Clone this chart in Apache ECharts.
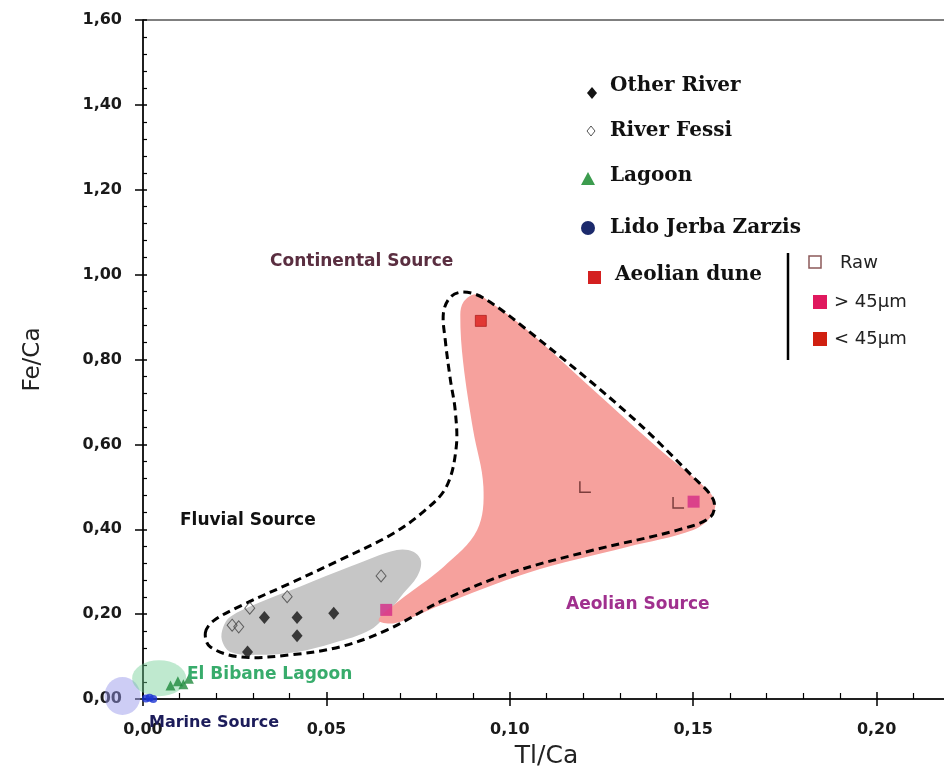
<!DOCTYPE html>
<html>
<head>
<meta charset="utf-8">
<script src="https://cdn.jsdelivr.net/npm/echarts@6/dist/echarts.min.js"></script>
<style>
  html, body { margin: 0; padding: 0; background: #ffffff; }
  #chart { width: 944px; height: 774px; }
</style>
</head>
<body>
<div id="chart"></div>
<script>
// ---- axis ticks ----
const xTickValues = [0, 0.05, 0.10, 0.15, 0.20];
const xTickLabels = ['0,00', '0,05', '0,10', '0,15', '0,20'];
const yTickValues = [0, 0.2, 0.4, 0.6, 0.8, 1.0, 1.2, 1.4, 1.6];
const yTickLabels = ['0,00', '0,20', '0,40', '0,60', '0,80', '1,00', '1,20', '1,40', '1,60'];

// ---- samples: [Ti/Ca, Fe/Ca] ----
const otherRiver = [[0.0331, 0.192], [0.0420, 0.192], [0.0520, 0.202], [0.0420, 0.149], [0.0285, 0.111]];
const riverFessi = [[0.0649, 0.290], [0.0393, 0.241], [0.0291, 0.214], [0.0243, 0.174], [0.0261, 0.170]];
const lagoon = [[0.0075, 0.032], [0.0095, 0.042], [0.0110, 0.035], [0.0125, 0.048]];
const lidoJerbaZarzis = [[0.0008, 0.001], [0.0018, 0.003], [0.0028, 0.000]];
const duneRaw = [[0.1206, 0.500], [0.1460, 0.463]];
const duneCoarse = [[0.1501, 0.465], [0.0663, 0.210]];   // > 45 µm
const duneFine = [[0.0921, 0.891]];                      // < 45 µm

// ---- source domains (outlines in data units) ----
const fluvialField = [
  [0.0238, 0.194], [0.0311, 0.225], [0.0429, 0.265], [0.0565, 0.312], [0.0692, 0.351],
  [0.0737, 0.347], [0.0758, 0.324], [0.0747, 0.288], [0.0710, 0.249], [0.0674, 0.210],
  [0.0620, 0.163], [0.0519, 0.132], [0.0420, 0.111], [0.0311, 0.104], [0.0238, 0.111],
  [0.0215, 0.139], [0.0219, 0.170]
];
const aeolianField = [
  [0.0874, 0.936], [0.0906, 0.954], [0.0947, 0.935], [0.1048, 0.869], [0.1228, 0.728],
  [0.1410, 0.587], [0.1519, 0.509], [0.1558, 0.469], [0.1552, 0.434], [0.1500, 0.398],
  [0.1320, 0.358], [0.1048, 0.297], [0.0811, 0.221], [0.0688, 0.179], [0.0642, 0.186],
  [0.0701, 0.233], [0.0819, 0.311], [0.0911, 0.398], [0.0928, 0.500], [0.0900, 0.634],
  [0.0873, 0.792], [0.0865, 0.905]
];
const continentalBoundary = [
  [0.0170, 0.156], [0.0192, 0.184], [0.0265, 0.219], [0.0402, 0.273], [0.0538, 0.328],
  [0.0674, 0.386], [0.0764, 0.441], [0.0827, 0.500], [0.0854, 0.594], [0.0851, 0.681],
  [0.0838, 0.752], [0.0824, 0.846], [0.0819, 0.910], [0.0838, 0.947], [0.0873, 0.959],
  [0.0928, 0.945], [0.1048, 0.869], [0.1320, 0.674], [0.1500, 0.523], [0.1555, 0.469],
  [0.1547, 0.429], [0.1457, 0.398], [0.1228, 0.351], [0.1001, 0.297], [0.0819, 0.233],
  [0.0666, 0.163], [0.0538, 0.123], [0.0402, 0.104], [0.0265, 0.099], [0.0183, 0.123]
];
const marineCentre = [[-0.0056, 0.007]];
const bibaneCentre = [[0.0044, 0.049]];

const FONT = "'DejaVu Sans', Verdana, sans-serif";
const SERIF = "'DejaVu Serif', 'Liberation Serif', serif";

function tickLabel(values, labels) {
  return function (v) {
    for (let i = 0; i < values.length; i++) {
      if (Math.abs(values[i] - v) < 1e-9) return labels[i];
    }
    return '';
  };
}

function regionSeries(name, pts, style, z) {
  return {
    type: 'custom', name: name, data: pts, z: z, silent: true, clip: false,
    renderItem: function (params, api) {
      if (params.dataIndex !== 0) return;
      const points = pts.map(function (p) { return api.coord(p); });
      return { type: 'polygon', shape: { points: points, smooth: 0.35 }, style: style };
    }
  };
}

const chart = echarts.init(document.getElementById('chart'), null, { renderer: 'canvas' });

const axisLineStyle = { color: '#000', width: 1.5 };

chart.setOption({
  backgroundColor: '#ffffff',
  animation: false,
  // plot area runs slightly past the right edge of the page
  grid: {
    left: 143, top: 20, width: 807, height: 679, outerBoundsMode: 'none', containLabel: false,
    show: true, borderColor: '#000', borderWidth: 1, backgroundColor: 'transparent'
  },
  xAxis: [
    {
      type: 'value', min: 0, max: 0.22, interval: 0.05, position: 'bottom',
      axisLine: { show: true, onZero: false, lineStyle: axisLineStyle },
      axisTick: { show: true, inside: true, length: 7, lineStyle: { color: '#000', width: 1.5 } },
      minorTick: { show: true, splitNumber: 5, length: 6, lineStyle: { color: '#000', width: 1.2 } },
      splitLine: { show: false },
      axisLabel: {
        margin: 23, showMaxLabel: false, color: '#1a1a1a', fontSize: 16, fontWeight: 'bold', fontFamily: FONT,
        formatter: tickLabel(xTickValues, xTickLabels)
      },
      name: 'Tl/Ca', nameLocation: 'middle', nameGap: 45,
      nameTextStyle: { fontSize: 25, color: '#222', fontFamily: FONT }
    },
    {
      type: 'value', min: 0, max: 0.22, interval: 0.05, position: 'bottom',
      axisLine: { show: false }, axisLabel: { show: false }, splitLine: { show: false },
      axisTick: { show: true, inside: false, length: 7, lineStyle: { color: '#000', width: 1.5 } }
    }
  ],
  yAxis: [
    {
      type: 'value', min: 0, max: 1.6, interval: 0.2, position: 'left',
      axisLine: { show: true, onZero: false, lineStyle: axisLineStyle },
      axisTick: { show: true, inside: true, length: 4, lineStyle: { color: '#000', width: 1.5 } },
      minorTick: { show: true, splitNumber: 5, length: 4, lineStyle: { color: '#000', width: 1.2 } },
      splitLine: { show: false },
      axisLabel: {
        margin: 21, color: '#1a1a1a', fontSize: 16, fontWeight: 'bold', fontFamily: FONT,
        formatter: tickLabel(yTickValues, yTickLabels)
      },
      name: 'Fe/Ca', nameLocation: 'middle', nameGap: 98,
      nameTextStyle: { fontSize: 23, color: '#222', fontFamily: FONT }
    },
    {
      type: 'value', min: 0, max: 1.6, interval: 0.2, position: 'left',
      axisLine: { show: false }, axisLabel: { show: false }, splitLine: { show: false },
      axisTick: { show: true, inside: false, length: 8, lineStyle: { color: '#000', width: 1.5 } }
    }
  ],
  series: [
    {
      type: 'scatter', name: 'Marine Source', data: marineCentre, symbol: 'circle', symbolSize: [36, 38],
      itemStyle: { color: 'rgba(150,150,235,0.6)' }, clip: false, silent: true, z: 1
    },
    {
      type: 'scatter', name: 'El Bibane Lagoon', data: bibaneCentre, symbol: 'circle', symbolSize: [54, 36],
      itemStyle: { color: 'rgba(110,205,145,0.55)' }, clip: false, silent: true, z: 1
    },
    regionSeries('Fluvial Source', fluvialField, { fill: '#c6c6c6', stroke: 'none' }, 1),
    regionSeries('Aeolian Source', aeolianField, { fill: '#f6a19d', stroke: 'none' }, 1),
    regionSeries('Continental Source', continentalBoundary,
      { fill: 'none', stroke: '#000', lineWidth: 3, lineDash: [8, 5] }, 2),
    {
      type: 'scatter', name: 'Other River', data: otherRiver, symbol: 'diamond', symbolSize: [11, 13],
      itemStyle: { color: '#141414' }, z: 3
    },
    {
      type: 'scatter', name: 'River Fessi', data: riverFessi, symbol: 'diamond', symbolSize: [10, 12],
      itemStyle: { color: 'rgba(255,255,255,0)', borderColor: '#444', borderWidth: 1 }, z: 3
    },
    {
      type: 'scatter', name: 'Lagoon', data: lagoon, symbol: 'triangle', symbolSize: 10,
      itemStyle: { color: '#1f8a3c' }, z: 3, clip: false
    },
    {
      type: 'scatter', name: 'Lido Jerba Zarzis', data: lidoJerbaZarzis, symbol: 'circle', symbolSize: 8,
      itemStyle: { color: '#1b34d2' }, z: 3, clip: false
    },
    {
      type: 'scatter', name: 'Raw', data: duneRaw, symbol: 'path://M0,0 L0,10 L10,10', symbolSize: 11,
      itemStyle: { color: 'rgba(0,0,0,0)', borderColor: '#5e2424', borderWidth: 1.5 }, z: 3
    },
    {
      type: 'scatter', name: '> 45µm', data: duneCoarse, symbol: 'rect', symbolSize: 12,
      itemStyle: { color: '#d42a86' }, z: 3
    },
    {
      type: 'scatter', name: '< 45µm', data: duneFine, symbol: 'rect', symbolSize: 11,
      itemStyle: { color: '#dc1e1a', borderColor: '#a01010', borderWidth: 0.8 }, z: 3
    }
  ],
  graphic: [
    // domain annotations
    { type: 'text', x: 270, y: 262, z: 10, style: { text: 'Continental Source', fill: '#5a2e40', fontSize: 17, fontWeight: 'bold', fontFamily: FONT, verticalAlign: 'middle' } },
    { type: 'text', x: 180, y: 521, z: 10, style: { text: 'Fluvial Source', fill: '#111', fontSize: 17, fontWeight: 'bold', fontFamily: FONT, verticalAlign: 'middle' } },
    { type: 'text', x: 566, y: 605, z: 10, style: { text: 'Aeolian Source', fill: '#a0308e', fontSize: 17, fontWeight: 'bold', fontFamily: FONT, verticalAlign: 'middle' } },
    { type: 'text', x: 187, y: 675, z: 10, style: { text: 'El Bibane Lagoon', fill: '#38ac6c', fontSize: 17, fontWeight: 'bold', fontFamily: FONT, verticalAlign: 'middle' } },
    { type: 'text', x: 149, y: 723, z: 10, style: { text: 'Marine Source', fill: '#1c1c5a', fontSize: 16, fontWeight: 'bold', fontFamily: FONT, verticalAlign: 'middle' } },

    // key: sample groups
    { type: 'polygon', z: 10, shape: { points: [[592, 87], [597, 93], [592, 99], [587, 93]] }, style: { fill: '#141414' } },
    { type: 'text', x: 610, y: 86, z: 10, style: { text: 'Other River', fill: '#111', fontSize: 20, fontWeight: 'bold', fontFamily: SERIF, verticalAlign: 'middle' } },
    { type: 'polygon', z: 10, shape: { points: [[591, 126], [595, 131], [591, 136], [587, 131]] }, style: { fill: '#fff', stroke: '#555', lineWidth: 1 } },
    { type: 'text', x: 610, y: 131, z: 10, style: { text: 'River Fessi', fill: '#111', fontSize: 20, fontWeight: 'bold', fontFamily: SERIF, verticalAlign: 'middle' } },
    { type: 'polygon', z: 10, shape: { points: [[588, 172], [595, 185], [581, 185]] }, style: { fill: '#3c9c4e' } },
    { type: 'text', x: 610, y: 176, z: 10, style: { text: 'Lagoon', fill: '#111', fontSize: 20, fontWeight: 'bold', fontFamily: SERIF, verticalAlign: 'middle' } },
    { type: 'circle', z: 10, shape: { cx: 588, cy: 228, r: 7 }, style: { fill: '#1c2a6c' } },
    { type: 'text', x: 610, y: 228, z: 10, style: { text: 'Lido Jerba Zarzis', fill: '#111', fontSize: 20, fontWeight: 'bold', fontFamily: SERIF, verticalAlign: 'middle' } },
    { type: 'rect', z: 10, shape: { x: 588, y: 271, width: 13, height: 13 }, style: { fill: '#d42020' } },
    { type: 'text', x: 615, y: 275, z: 10, style: { text: 'Aeolian dune', fill: '#111', fontSize: 20, fontWeight: 'bold', fontFamily: SERIF, verticalAlign: 'middle' } },

    // key: aeolian fractions
    { type: 'line', z: 10, shape: { x1: 788, y1: 253, x2: 788, y2: 360 }, style: { stroke: '#000', lineWidth: 2.5 } },
    { type: 'rect', z: 10, shape: { x: 809, y: 256, width: 12, height: 12 }, style: { fill: '#fff', stroke: '#8c5a5a', lineWidth: 1.5 } },
    { type: 'text', x: 840, y: 263, z: 10, style: { text: 'Raw', fill: '#222', fontSize: 18, fontFamily: FONT, verticalAlign: 'middle' } },
    { type: 'rect', z: 10, shape: { x: 813, y: 295, width: 14, height: 14 }, style: { fill: '#e0185e' } },
    { type: 'text', x: 834, y: 302, z: 10, style: { text: '> 45µm', fill: '#222', fontSize: 18, fontFamily: FONT, verticalAlign: 'middle' } },
    { type: 'rect', z: 10, shape: { x: 813, y: 332, width: 14, height: 14 }, style: { fill: '#d02010' } },
    { type: 'text', x: 834, y: 339, z: 10, style: { text: '< 45µm', fill: '#222', fontSize: 18, fontFamily: FONT, verticalAlign: 'middle' } }
  ]
});
</script>
</body>
</html>
